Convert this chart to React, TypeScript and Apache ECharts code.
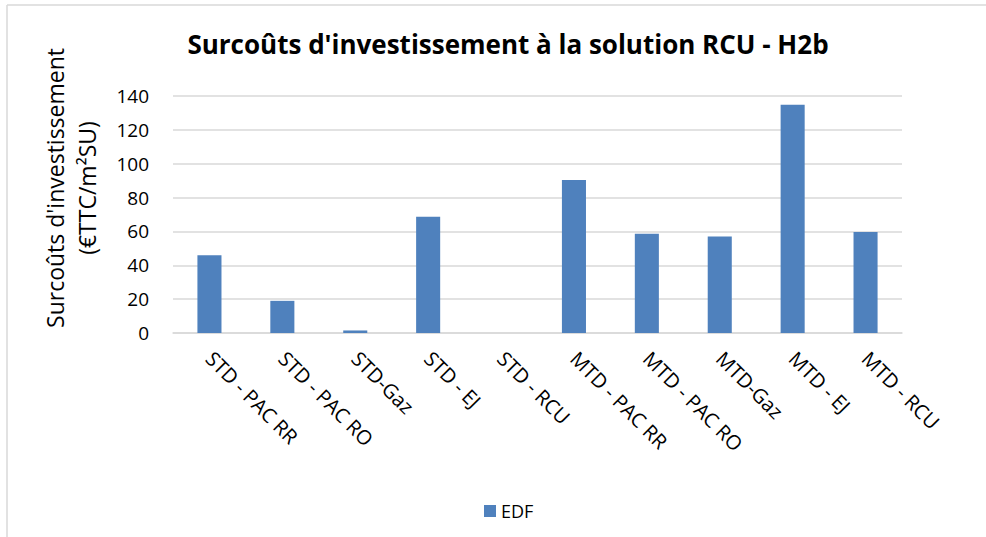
import React, { useEffect, useRef } from "react";
import * as echarts from "echarts";

const categories = [
  "STD - PAC RR",
  "STD - PAC RO",
  "STD-Gaz",
  "STD - EJ",
  "STD - RCU",
  "MTD - PAC RR",
  "MTD - PAC RO",
  "MTD-Gaz",
  "MTD - EJ",
  "MTD - RCU",
];
const edfValues = [46, 19, 1.5, 68.6, 0, 90.4, 58.7, 57, 134.8, 59.6];
const seriesName = "EDF";
const titleText = "Surcoûts d'investissement à la solution RCU - H2b";
const yAxisTitle = "Surcoûts d'investissement\n(€TTC/m²SU)";

const FONT = "'Open Sans', sans-serif";

export default function App() {
  const ref = useRef<HTMLDivElement>(null);
  useEffect(() => {
    if (!ref.current) return;
    const chart = echarts.init(ref.current, null, { renderer: "svg" });
    chart.setOption({
      animation: false,
      backgroundColor: "#ffffff",
      title: {
        text: titleText,
        left: 503,
        top: 26,
        textAlign: "center",
        textStyle: {
          fontFamily: FONT,
          fontWeight: "bold",
          fontSize: 26,
          color: "#000000",
        },
      },
      graphic: [
        {
          type: "line",
          shape: { x1: 7, y1: 5, x2: 986, y2: 5 },
          style: { stroke: "#d9d9d9", lineWidth: 1.5 },
        },
        {
          type: "line",
          shape: { x1: 7, y1: 5, x2: 7, y2: 537 },
          style: { stroke: "#d9d9d9", lineWidth: 1.5 },
        },
        {
          type: "text",
          x: 71,
          y: 188,
          rotation: Math.PI / 2,
          style: {
            text: yAxisTitle,
            fontFamily: FONT,
            fontSize: 23,
            lineHeight: 32,
            fill: "#000",
            align: "center",
            verticalAlign: "middle",
          },
        },
      ],
      legend: {
        data: [seriesName],
        left: 479,
        top: 497,
        itemWidth: 12,
        itemHeight: 12,
        itemGap: 6,
        icon: "rect",
        textStyle: { fontFamily: FONT, fontSize: 18, color: "#000" },
      },
      grid: { left: 173, right: 84, top: 96, bottom: 204, containLabel: false },
      xAxis: {
        type: "category",
        data: categories,
        axisLine: { lineStyle: { color: "#d9d9d9", width: 1.5 } },
        axisTick: { show: false },
        axisLabel: {
          rotate: -45,
          interval: 0,
          margin: 22,
          fontFamily: FONT,
          fontSize: 20,
          color: "#000",
        },
      },
      yAxis: {
        type: "value",
        min: 0,
        max: 140,
        interval: 20,
        axisLine: { show: false },
        axisTick: { show: false },
        splitLine: { lineStyle: { color: "#d9d9d9", width: 1.5 } },
        axisLabel: {
          margin: 24,
          fontFamily: FONT,
          fontSize: 19,
          color: "#000",
        },
      },
      series: [
        {
          name: seriesName,
          type: "bar",
          data: edfValues,
          barWidth: "33%",
          itemStyle: { color: "#4f81bd" },
        },
      ],
    });
    return () => chart.dispose();
  }, []);
  return (
    <div
      ref={ref}
      style={{ position: "absolute", left: 0, top: 0, width: 986, height: 537 }}
    />
  );
}
